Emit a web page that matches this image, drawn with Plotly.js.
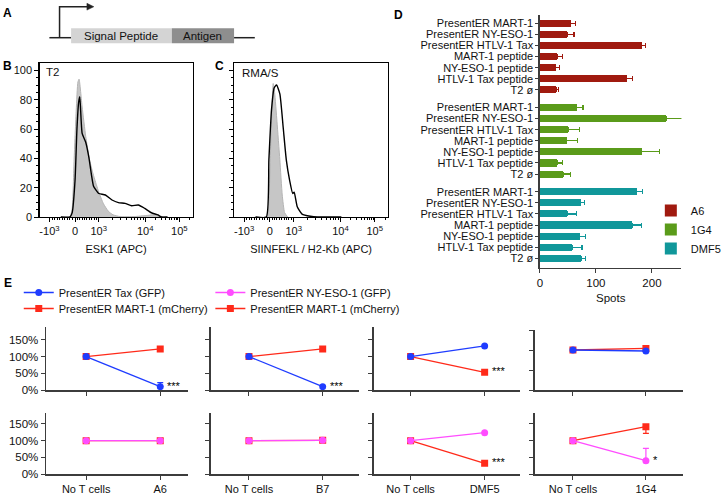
<!DOCTYPE html>
<html><head><meta charset="utf-8">
<script src="https://cdn.plot.ly/plotly-3.0.1.min.js"></script>
<style>html,body{margin:0;padding:0;background:#fff}#chart{width:726px;height:495px}</style>
</head><body><div id="chart"></div>
<script>
// ---------- Panel B / C : flow histograms (x in display units of the biexponential axis)
const flowTickVals = [-1.08, 0, 1, 2.96, 4.4];
const flowTickText = ['-10<sup>3</sup>', '0', '10<sup>3</sup>', '10<sup>4</sup>', '10<sup>5</sup>'];
const bGrayX = [-0.6, -0.22, -0.12, -0.04, 0.05, 0.12, 0.17, 0.3, 0.45, 0.6, 0.75, 0.9, 1.0, 1.2, 1.4, 1.6, 1.9, 2.5, 3.0, 3.3, 3.6, 3.9];
const bGrayY = [0, 0, 6, 39, 73, 92, 94, 75, 55, 40, 30, 22, 17, 9, 4, 1.5, 0.3, 0.3, 1, 1.5, 0.5, 0];
const bBlackX = [-0.6, -0.22, -0.12, 0.0, 0.08, 0.15, 0.2, 0.3, 0.45, 0.58, 0.7, 0.78, 0.9, 1.0, 1.28, 1.56, 1.83, 2.11, 2.39, 2.67, 2.94, 3.22, 3.5, 3.64, 3.9];
const bBlackY = [0, 0, 3, 25, 60, 78, 82, 57, 51, 41, 28, 21, 18, 16, 15, 11.6, 9.8, 9.3, 7.7, 8.2, 5.9, 2.9, 1.4, 0, 0];
const cGrayX = [-0.6, -0.12, -0.05, 0.03, 0.1, 0.14, 0.2, 0.3, 0.42, 0.52, 0.62, 0.75];
const cGrayY = [0, 0, 8, 45, 80, 91, 85, 65, 39, 15, 3, 0];
const cBlackX = [-0.6, -0.15, -0.04, 0.07, 0.18, 0.28, 0.42, 0.56, 0.69, 0.83, 0.96, 1.02, 1.15, 1.35, 1.7, 2.0, 3.0];
const cBlackY = [0, 0, 39, 73, 88, 90, 84, 61, 39, 25, 16, 17, 7, 2, 0.5, 0, 0];

// ---------- Panel D : ELISpot bars
const dCategories = ['PresentER MART-1', 'PresentER NY-ESO-1', 'PresentER HTLV-1 Tax', 'MART-1 peptide', 'NY-ESO-1 peptide', 'HTLV-1 Tax peptide', 'T2 ø'];
const dGroups = ['A6', '1G4', 'DMF5'];
const spotsA6 = [55, 49, 182, 31, 28, 155, 29];
const errA6 = [8, 12, 7, 9, 7, 11, 4];
const spots1G4 = [66, 225, 50, 48, 182, 31, 42];
const err1G4 = [11, 30, 20, 19, 31, 9, 12];
const spotsDMF5 = [173, 73, 49, 165, 71, 58, 74];
const errDMF5 = [10, 7, 17, 17, 10, 17, 8];
const dColors = ['#a01a0f', '#5a9b1a', '#10979a'];

// ---------- Panel E : killing assays (% of No T cells)
const eCondition = 'No T cells';
const eTcells = ['A6', 'B7', 'DMF5', '1G4'];
const topBlue = [[100, 10], [100, 10], [100, 132], [100, 97.5]];
const topBlueErr = [[0, 12], [0, 0], [0, 0], [0, 0]];
const topRed = [[100, 123], [100, 123], [100, 53], [100, 104]];
const topStars = [['***', ''], ['***', ''], ['', '***'], ['', '']]; // [blue, red]
const botMagenta = [[100, 100], [100, 101], [100, 124], [100, 40]];
const botMagentaErr = [[0, 0], [0, 0], [0, 0], [0, 37]];
const botRed = [[100, 100], [100, 101], [100, 32], [100, 142]];
const botRedErrMinus = [[0, 0], [0, 0], [0, 0], [0, 20]];
const botStars = [['', ''], ['', ''], ['', '***'], ['*', '']]; // [magenta, red]
const eNames = ['PresentER Tax (GFP)', 'PresentER MART-1 (mCherry)', 'PresentER NY-ESO-1 (GFP)', 'PresentER MART-1 (mCherry)'];
const ePct = [0, 50, 100, 150];

// ---------- helpers
const W = 726, H = 495;
const px = v => v / W, py = v => 1 - v / H;
const FONT = 'Liberation Sans, Arial, sans-serif';
const FS = 11;
const AX = '#3c3c3c';
const BLUE = '#1f3cff', RED = '#ff2a1a', MAG = '#ff4cff';

const traces = [];
const annotations = [];
const shapes = [];

// minor ticks for flow axis
const flowMinor = [];
for (let m = 1; m < 10; m++) { flowMinor.push(-m / 10 * 1.08); flowMinor.push(m / 10); }
const decades = [[1, 2.96], [2.96, 4.4]];
decades.forEach(([a, b]) => { for (let m = 2; m < 10; m++) flowMinor.push(a + Math.log10(m) * (b - a)); });
for (let m = 2; m < 10; m++) flowMinor.push(4.4 + Math.log10(m) * 1.44);

function histTraces(gx, gy, kx, ky, xa, ya) {
  traces.push({x: gx, y: gy, type: 'scatter', mode: 'lines', fill: 'tozeroy', fillcolor: '#c6c6c6',
    line: {color: '#b4b4b4', width: 1, shape: 'spline', smoothing: 0.5}, xaxis: xa, yaxis: ya, showlegend: false, hoverinfo: 'skip'});
  traces.push({x: kx, y: ky, type: 'scatter', mode: 'lines',
    line: {color: '#000', width: 1.4, shape: 'spline', smoothing: 0.5}, xaxis: xa, yaxis: ya, showlegend: false, hoverinfo: 'skip'});
}
histTraces(bGrayX, bGrayY, bBlackX, bBlackY, 'x', 'y');
histTraces(cGrayX, cGrayY, cBlackX, cBlackY, 'x2', 'y2');

// Panel D bars
const groupGap = 7.6;
const dSeries = [[spotsA6, errA6], [spots1G4, err1G4], [spotsDMF5, errDMF5]];
const dTickVals = [], dTickText = [];
dSeries.forEach(([vals, errs], g) => {
  const ys = dCategories.map((c, i) => g * groupGap + i);
  ys.forEach((y, i) => { dTickVals.push(y); dTickText.push(dCategories[i]); });
  traces.push({type: 'bar', orientation: 'h', x: vals, y: ys, name: dGroups[g], width: 0.64,
    marker: {color: dColors[g], line: {width: 0}},
    error_x: {type: 'data', symmetric: false, array: errs, arrayminus: errs.map(() => 0), color: dColors[g], thickness: 1.2, width: 2.5},
    xaxis: 'x3', yaxis: 'y3', legend: 'legend', legendgroup: dGroups[g], hoverinfo: 'skip'});
});

// Panel E
function eTrace(i, n, vals, color, symbol, name, showleg, legend, errUp, errDown) {
  const hasErr = (errUp && errUp.some(v => v > 0)) || (errDown && errDown.some(v => v > 0));
  traces.push({type: 'scatter', mode: 'lines+markers', x: [eCondition, eTcells[i]], y: vals, name: name,
    line: {color: color, width: 1.3}, marker: {color: color, symbol: symbol, size: 7},
    error_y: {type: 'data', symmetric: false, visible: !!hasErr, array: errUp || [0, 0], arrayminus: errDown || [0, 0], color: color, thickness: 1.2, width: 3},
    xaxis: 'x' + n, yaxis: 'y' + n, showlegend: showleg, legend: legend, hoverinfo: 'skip'});
}
for (let i = 0; i < 4; i++) {
  const nt = 4 + i, nb = 8 + i;
  eTrace(i, nt, topRed[i], RED, 'square', eNames[1], i === 0, 'legend4');
  eTrace(i, nt, topBlue[i], BLUE, 'circle', eNames[0], i === 0, 'legend2', topBlueErr[i], [0, 0]);
  eTrace(i, nb, botRed[i], RED, 'square', eNames[3], i === 0, 'legend5', [0, 0], botRedErrMinus[i]);
  eTrace(i, nb, botMagenta[i], MAG, 'circle', eNames[2], i === 0, 'legend3', botMagentaErr[i], [0, 0]);
  // significance stars
  [[topStars[i][0], topBlue[i][1], nt], [topStars[i][1], topRed[i][1], nt],
   [botStars[i][0], botMagenta[i][1], nb], [botStars[i][1], botRed[i][1], nb]].forEach(([t, v, n]) => {
    if (t) annotations.push({text: t, x: 1, y: v, xref: 'x' + n, yref: 'y' + n, xanchor: 'left', yanchor: 'middle',
      xshift: 5, yshift: 1, showarrow: false, font: {size: FS, color: '#000'}});
  });
}

// ---------- layout
const leg = (x, y) => ({x: px(x), y: py(y), xanchor: 'left', yanchor: 'top', bgcolor: 'rgba(0,0,0,0)', font: {size: FS}});
const layout = {
  width: W, height: H, margin: {l: 0, r: 0, t: 0, b: 0}, paper_bgcolor: '#fff', plot_bgcolor: 'rgba(0,0,0,0)',
  font: {family: FONT, size: FS, color: '#111'}, showlegend: true, bargap: 0,
  legend: Object.assign(leg(659, 196), {tracegroupgap: 0}),
  legend2: leg(19, 278),
  legend4: leg(19, 294),
  legend3: leg(213, 278),
  legend5: leg(213, 294),
  annotations: annotations, shapes: shapes
};
const flowX = (dom, title) => ({domain: dom, range: [-1.5, 4.96], tickmode: 'array', tickvals: flowTickVals, ticktext: flowTickText,
  ticks: 'outside', ticklen: 4, tickcolor: '#000', showline: true, linecolor: '#000', linewidth: 1.2, mirror: true,
  showgrid: false, zeroline: false, tickfont: {size: FS},
  minor: {tickmode: 'array', tickvals: flowMinor, ticks: 'outside', ticklen: 2, tickcolor: '#000'},
  title: {text: title, font: {size: FS}, standoff: 8}});
const flowMinorY = []; for (let v = 5; v < 105; v += 5) if (v % 20) flowMinorY.push(v);
const flowY = (showlab) => ({domain: [py(217), py(63)], range: [0, 105], tickmode: 'array', tickvals: [0, 20, 40, 60, 80, 100],
  ticks: 'outside', ticklen: 4, tickcolor: '#000', showline: true, linecolor: '#000', linewidth: 1.2, mirror: true,
  showgrid: false, zeroline: false, showticklabels: showlab, tickfont: {size: FS},
  minor: {tickmode: 'array', tickvals: flowMinorY, ticks: 'outside', ticklen: 2, tickcolor: '#000'}});
layout.xaxis = Object.assign(flowX([px(40), px(195)], 'ESK1 (APC)'), {anchor: 'y'});
layout.yaxis = Object.assign(flowY(true), {anchor: 'x'});
layout.xaxis2 = Object.assign(flowX([px(237), px(393)], 'SIINFEKL / H2-Kb (APC)'), {anchor: 'y2'});
layout.yaxis2 = Object.assign(flowY(false), {anchor: 'x2'});

layout.xaxis3 = {domain: [px(546.7), px(690)], anchor: 'y3', range: [0, 252.7], tickmode: 'array', tickvals: [0, 100, 200],
  ticks: 'outside', ticklen: 4, tickcolor: AX, showline: true, linecolor: AX, linewidth: 1.5, showgrid: false, zeroline: false,
  tickfont: {size: FS + 0.5}, title: {text: 'Spots', font: {size: FS + 0.5}, standoff: 6}};
layout.yaxis3 = {domain: [py(267.7), py(15)], anchor: 'x3', range: [22.05, -0.75], tickmode: 'array', tickvals: dTickVals, ticktext: dTickText,
  ticks: 'outside', ticklen: 3, tickcolor: AX, showline: true, linecolor: AX, linewidth: 1.5, showgrid: false, zeroline: false,
  tickfont: {size: FS}};

const eX = [[46.7, 190, -0.54, 1.37], [213.3, 363.3, -0.52, 1.49], [378.3, 526.7, -0.5, 1.48], [541.7, 691.7, -0.52, 1.51]];
for (let i = 0; i < 4; i++) {
  const [x0, x1, r0, r1] = eX[i];
  [[4 + i, false, i === 3 ? [390, 330] : [390, 326.5], i === 3 ? [0, 150] : [0, 190]],
   [8 + i, true, [474, 413.3], [0, 182]]].forEach(([n, bottom, dom, yr]) => {
    layout['xaxis' + n] = {domain: [px(x0), px(x1)], anchor: 'y' + n, type: 'category', categoryorder: 'array',
      categoryarray: [eCondition, eTcells[i]], range: [r0, r1], ticks: 'outside', ticklen: 4, tickcolor: AX,
      showline: true, linecolor: AX, linewidth: 1.5, showgrid: false, zeroline: false, showticklabels: bottom,
      tickfont: {size: FS}};
    layout['yaxis' + n] = {domain: [py(dom[0]), py(dom[1])], anchor: 'x' + n, range: yr, tickmode: 'array', tickvals: ePct,
      ticktext: ePct.map(v => v + '%'), ticks: 'outside', ticklen: 4, tickcolor: AX, showline: true, linecolor: AX, linewidth: 1.5,
      showgrid: false, zeroline: false, showticklabels: i === 0, tickfont: {size: FS + 0.5}};
  });
}

// ---------- Panel A diagram + letters + labels
const line = (x0, y0, x1, y1, w) => ({type: 'line', xref: 'paper', yref: 'paper', x0: px(x0), y0: py(y0), x1: px(x1), y1: py(y1), line: {color: '#222', width: w || 1.5}});
shapes.push(line(50, 37.7, 72, 37.7), line(237, 37.7, 258, 37.7));
shapes.push({type: 'rect', xref: 'paper', yref: 'paper', x0: px(72), x1: px(174), y0: py(43.3), y1: py(28.3), fillcolor: '#d4d4d4', line: {width: 0}});
shapes.push({type: 'rect', xref: 'paper', yref: 'paper', x0: px(174), x1: px(237), y0: py(43.3), y1: py(28.3), fillcolor: '#8e8e8e', line: {width: 0}});
shapes.push({type: 'path', xref: 'paper', yref: 'paper', path: `M ${px(60.3)},${py(37.7)} L ${px(60.3)},${py(6.7)} L ${px(89)},${py(6.7)}`, line: {color: '#222', width: 1.5}});
shapes.push({type: 'path', xref: 'paper', yref: 'paper', path: `M ${px(88)},${py(3.3)} L ${px(95)},${py(6.7)} L ${px(88)},${py(10.1)} Z`, fillcolor: '#222', line: {color: '#222', width: 0.5}});
const txt = (t, x, y, opts) => annotations.push(Object.assign({text: t, x: px(x), y: py(y), xref: 'paper', yref: 'paper', showarrow: false,
  xanchor: 'center', yanchor: 'middle', font: {size: FS + 0.5, color: '#111'}}, opts || {}));
txt('Signal Peptide', 123, 36);
txt('Antigen', 205.5, 36);
[['A', 8, 13], ['B', 8, 66], ['C', 222, 66], ['D', 404, 15], ['E', 8, 283]].forEach(([t, x, y]) =>
  txt('<b>' + t + '</b>', x, y, {xanchor: 'center', font: {size: 12, color: '#000'}}));
txt('T2', 45, 72, {xanchor: 'left'});
txt('RMA/S', 243, 73, {xanchor: 'left'});

Plotly.newPlot('chart', traces, layout, {displayModeBar: false, staticPlot: true});
</script></body></html>
